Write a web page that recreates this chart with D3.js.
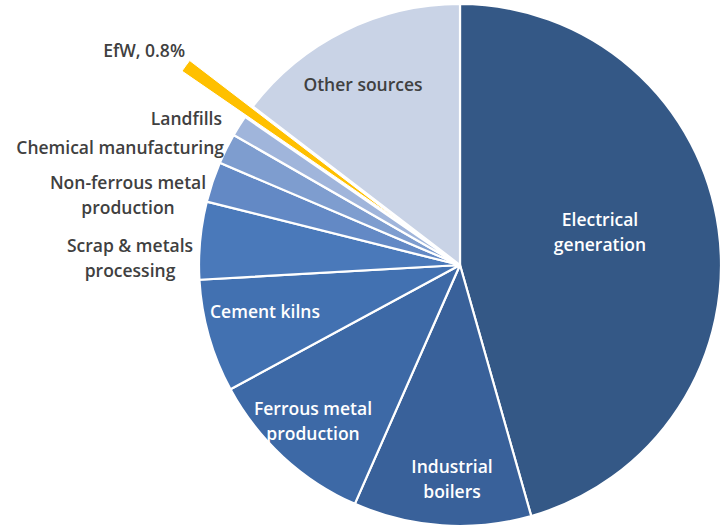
<!DOCTYPE html>
<html>
<head>
<meta charset="utf-8">
<script src="https://cdn.jsdelivr.net/npm/d3@7"></script>
<style>
  html, body { margin: 0; padding: 0; background: #ffffff; }
  svg { display: block; }
  text { font-family: "Open Sans", "Noto Sans", sans-serif; font-weight: 600; font-size: 17.5px; }
</style>
</head>
<body>
<svg id="chart" width="725" height="529"></svg>
<script>
// ---- data ----
const categories = [
  "Electrical generation",
  "Industrial boilers",
  "Ferrous metal production",
  "Cement kilns",
  "Scrap & metals processing",
  "Non-ferrous metal production",
  "Chemical manufacturing",
  "Landfills",
  "EfW",
  "Other sources"
];
const shares = [45.6, 11.0, 10.5, 7.0, 4.8, 2.5, 1.9, 1.3, 0.8, 14.6];
const labelLines = [
  ["Electrical", "generation"],
  ["Industrial", "boilers"],
  ["Ferrous metal", "production"],
  ["Cement kilns"],
  ["Scrap & metals", "processing"],
  ["Non-ferrous metal", "production"],
  ["Chemical manufacturing"],
  ["Landfills"],
  ["EfW, 0.8%"],
  ["Other sources"]
];

// ---- styles / layout ----
const colors = ["#345886", "#39619a", "#3d69a6", "#4271b1", "#4a79ba", "#6389c5", "#7e9dcf", "#a0b5db", "#ffc000", "#c9d3e6"];
const textColors = ["#ffffff", "#ffffff", "#ffffff", "#ffffff", "#404040", "#404040", "#404040", "#404040", "#404040", "#404040"];
// label anchor positions relative to pie centre (x, y of first line baseline), anchor
const labelLayout = [
  {x: 140, y: -39, anchor: "middle"},
  {x: -8, y: 208, anchor: "middle"},
  {x: -147, y: 150, anchor: "middle"},
  {x: -195, y: 53, anchor: "middle"},
  {x: -330, y: -13, anchor: "middle"},
  {x: -332, y: -76, anchor: "middle"},
  {x: -236, y: -111, anchor: "end"},
  {x: -238, y: -140, anchor: "end"},
  {x: -275, y: -208, anchor: "end"},
  {x: -97, y: -174, anchor: "middle"}
];
const explodeIndex = 8;
const explodeDist = 78;

const cx = 460, cy = 265, R = 261, lineH = 25;

const svg = d3.select("#chart");
const g = svg.append("g").attr("transform", `translate(${cx},${cy})`);

const data = categories.map((c, i) => ({name: c, value: shares[i], i}));
const pie = d3.pie().value(d => d.value).sort(null).startAngle(0).endAngle(2 * Math.PI);
const arcs = pie(data);
const arc = d3.arc().innerRadius(0).outerRadius(R);

g.selectAll("path.slice")
  .data(arcs)
  .join("path")
  .attr("class", "slice")
  .attr("d", arc)
  .attr("fill", d => colors[d.data.i])
  .attr("stroke", "#ffffff")
  .attr("stroke-width", d => d.data.i === explodeIndex ? 1 : 2.2)
  .attr("stroke-linejoin", "round")
  .attr("transform", d => {
    if (d.data.i !== explodeIndex) return null;
    const a = (d.startAngle + d.endAngle) / 2;
    return `translate(${Math.sin(a) * explodeDist},${-Math.cos(a) * explodeDist})`;
  });

const labels = g.selectAll("text.lbl")
  .data(arcs)
  .join("text")
  .attr("class", "lbl")
  .attr("fill", d => textColors[d.data.i])
  .attr("text-anchor", d => labelLayout[d.data.i].anchor)
  .attr("x", d => labelLayout[d.data.i].x)
  .attr("y", d => labelLayout[d.data.i].y);

labels.selectAll("tspan")
  .data(d => labelLines[d.data.i].map((t, k) => ({t, k, x: labelLayout[d.data.i].x})))
  .join("tspan")
  .attr("x", d => d.x)
  .attr("dy", d => d.k === 0 ? 0 : lineH)
  .text(d => d.t);
</script>
</body>
</html>
